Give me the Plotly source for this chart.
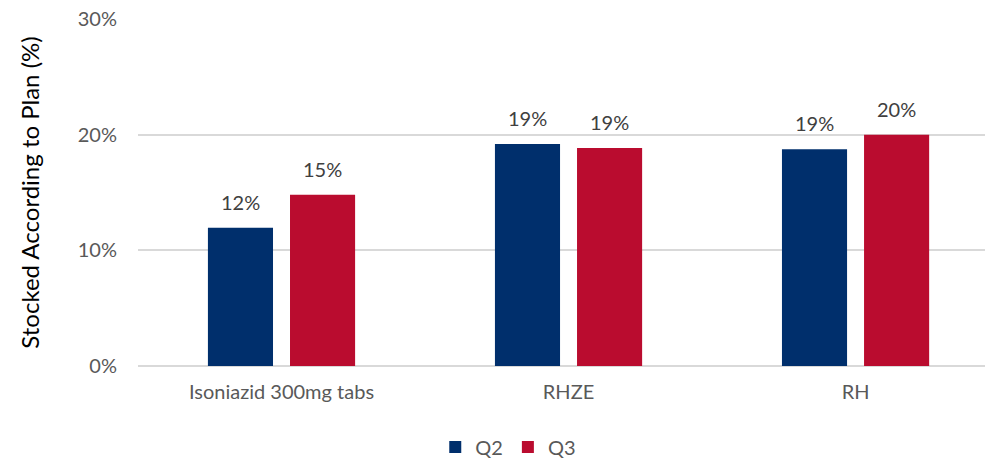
import plotly.graph_objects as go

categories = ["Isoniazid 300mg tabs", "RHZE", "RH"]
q2_values = [11.95, 19.2, 18.75]
q3_values = [14.8, 18.85, 20.0]
series_names = ["Q2", "Q3"]
colors = ["#002F6C", "#BA0C2F"]
font_family = "Lato, 'Open Sans', sans-serif"

fig = go.Figure()
for i, (name, vals, col) in enumerate(zip(series_names, [q2_values, q3_values], colors)):
    fig.add_trace(go.Bar(
        x=categories, y=vals, name=name, marker_color=col,
        marker_line_width=0, offsetgroup=str(i),
    ))
    for j, v in enumerate(vals):
        fig.add_annotation(
            x=j, y=v, xref="x", yref="y", text=f"{v:.0f}%",
            showarrow=False, yanchor="bottom", yshift=12,
            xshift=(-41 if i == 0 else 41),
            font=dict(size=20, color="#404040", family=font_family),
        )

fig.update_layout(
    width=985, height=460,
    margin=dict(l=138, r=0, t=19, b=94),
    plot_bgcolor="white", paper_bgcolor="white",
    barmode="group", bargap=0.428, bargroupgap=0.207,
    font=dict(family=font_family, color="#595959"),
    xaxis=dict(range=[-0.5, 2.451], showgrid=False, showline=False,
               tickfont=dict(size=20, color="#595959"), ticks="",
               ticklabelstandoff=12),
    yaxis=dict(range=[0, 30], dtick=10, ticksuffix="%", showgrid=True,
               gridcolor="#D9D9D9", gridwidth=2, zeroline=True,
               zerolinecolor="#D9D9D9", zerolinewidth=2,
               tickfont=dict(size=20, color="#595959"),
               ticklabelstandoff=20,
               title=dict(text="Stocked According to Plan (%)",
                          font=dict(size=24, color="#000000"), standoff=31)),
    legend=dict(orientation="h", xref="container", yref="container",
                x=0.516, y=0.028, xanchor="center", yanchor="middle",
                font=dict(size=20, color="#595959"), itemwidth=30,
                traceorder="normal"),
)

fig.write_html("out.html")
